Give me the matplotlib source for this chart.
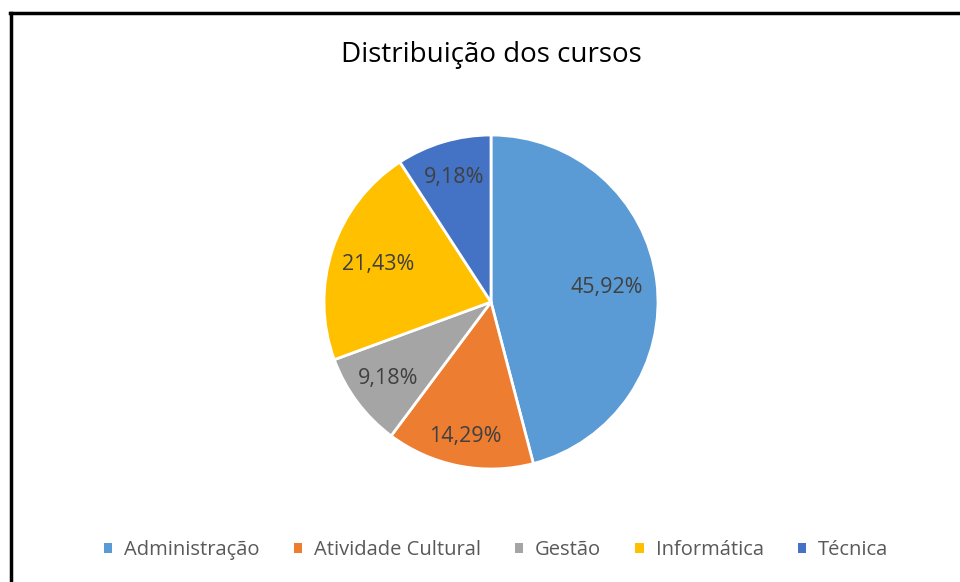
import numpy as np
import matplotlib.pyplot as plt
from matplotlib.lines import Line2D
from matplotlib.patches import Patch

plt.rcParams['font.family'] = ['Open Sans', 'DejaVu Sans']

# dados do gráfico
cursos = ['Administração', 'Atividade Cultural', 'Gestão', 'Informática', 'Técnica']
alunos = [45, 14, 9, 21, 9]
cores = ['#5B9BD5', '#ED7D31', '#A5A5A5', '#FFC000', '#4472C4']
# distância radial de cada rótulo (estilo, como o Excel posiciona)
dist_rotulo = [0.70, 0.82, 0.77, 0.71, 0.78]

fig = plt.figure(figsize=(9.6, 5.82), dpi=100)

# eixo da pizza: centro ~ (491, 301) px, raio ~167 px
cx, cy, r = 491, 302, 167
W, H = 960, 582
ax = fig.add_axes([(cx - r) / W, (H - cy - r) / H, 2 * r / W, 2 * r / H])

wedges, textos, pcts = ax.pie(
    alunos, colors=cores, startangle=90, counterclock=False, radius=1,
    autopct=lambda p: f'{p:.2f}%'.replace('.', ','), pctdistance=0.74,
    wedgeprops=dict(edgecolor='white', linewidth=2),
    textprops=dict(fontsize=15.5, color='#404040'))

for w, t, d in zip(wedges, pcts, dist_rotulo):
    ang = np.deg2rad((w.theta1 + w.theta2) / 2)
    t.set_position((d * np.cos(ang), d * np.sin(ang)))

ax.set_xlim(-1, 1)
ax.set_ylim(-1, 1)
ax.set_aspect('equal')
ax.axis('off')

fig.text(491 / W, 1 - 55 / H, 'Distribuição dos cursos', ha='center', va='center',
         fontsize=20, color='#000000')

handles = [Patch(facecolor=c, edgecolor='none') for c in cores]
fig.legend(handles, cursos, loc='center', bbox_to_anchor=(496 / W, 1 - 550 / H),
           ncol=5, frameon=False, fontsize=14.5, labelcolor='#595959',
           handlelength=0.4, handleheight=0.4, handletextpad=0.6, columnspacing=1.7)

# moldura preta (topo e lado esquerdo)
fig.add_artist(Line2D([10 / W, 1], [1 - 13 / H, 1 - 13 / H], color='black', lw=2.5,
                      transform=fig.transFigure))
fig.add_artist(Line2D([11 / W, 11 / W], [0, 1 - 13 / H], color='black', lw=2.5,
                      transform=fig.transFigure))

fig.savefig('out.png', dpi=100)
